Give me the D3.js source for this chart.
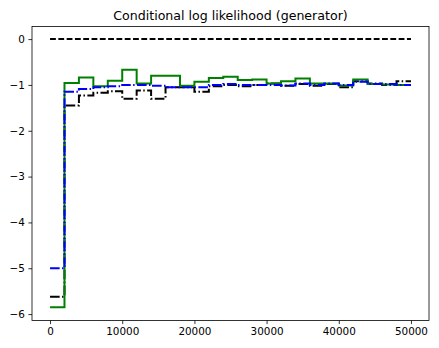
<!DOCTYPE html>
<html>
<head>
<meta charset="utf-8">
<script src="https://cdn.jsdelivr.net/npm/d3@7"></script>
<style>
  html, body { margin: 0; padding: 0; background: #fff; }
  svg { display: block; }
  text { font-family: "DejaVu Sans", sans-serif; }
</style>
</head>
<body>
<script>
// Step edges (x) every 2000 from 0 to 50000
const steps = d3.range(0, 50001, 2000);
// Segment values (25 segments: [0,2000), [2000,4000), ... [48000,50000])
const greenVals = [-5.85, -0.96, -0.84, -1.03, -0.91, -0.67, -0.97, -0.80, -0.80, -1.02,
                   -0.93, -0.85, -0.82, -0.89, -0.88, -0.97, -0.92, -0.86, -0.97, -0.97,
                   -1.01, -0.88, -0.98, -0.99, -1.00];
const blueVals  = [-5.00, -1.15, -1.09, -1.05, -1.03, -1.00, -1.00, -1.02, -1.05, -1.05,
                   -1.05, -1.00, -0.98, -1.00, -1.00, -1.00, -1.01, -0.97, -1.00, -0.97,
                   -1.00, -0.93, -0.98, -0.98, -1.00];
const blackVals = [-5.62, -1.45, -1.23, -1.17, -1.14, -1.30, -1.12, -1.30, -1.05, -1.05,
                   -1.15, -1.03, -1.00, -1.03, -1.00, -0.97, -1.02, -0.98, -1.02, -0.98,
                   -1.05, -0.92, -0.97, -1.00, -0.92];
const zeroVals  = steps.slice(0, -1).map(() => 0);
const xTicks = [0, 10000, 20000, 30000, 40000, 50000];
const yTicks = [0, -1, -2, -3, -4, -5, -6];
const title = "Conditional log likelihood (generator)";

const W = 439, H = 348;
const L = 32, R = 429, T = 26.5, B = 320.5;

const svg = d3.select("body").append("svg").attr("width", W).attr("height", H);

const x = d3.scaleLinear().domain([-2500, 52500]).range([L, R]);
const y = d3.scaleLinear().domain([-6.14, 0.275]).range([B, T]);

function pts(vals) {
  const p = vals.map((v, i) => [steps[i], v]);
  p.push([steps[vals.length], vals[vals.length - 1]]);
  return p;
}
const line = d3.line().x(d => x(d[0])).y(d => y(d[1])).curve(d3.curveStepAfter);

const g = svg.append("g");
const series = [
  { vals: zeroVals, color: "#000000", dash: "5.8,2.5" },
  { vals: blackVals, color: "#000000", dash: "9.6,2.4,1.5,2.4" },
  { vals: greenVals, color: "#008000", dash: null },
  { vals: blueVals, color: "#0000ff", dash: "9.6,2.4,1.5,2.4" }
];
series.forEach(s => {
  g.append("path")
    .attr("d", line(pts(s.vals)))
    .attr("fill", "none")
    .attr("stroke", s.color)
    .attr("stroke-width", 2)
    .attr("stroke-dasharray", s.dash)
    .attr("stroke-linejoin", "miter");
});

// Axes
const xAxis = d3.axisBottom(x).tickValues(xTicks).tickSize(3.6).tickPadding(3.6).tickFormat(d3.format("d"));
const yAxis = d3.axisLeft(y).tickValues(yTicks).tickSize(3.6).tickPadding(3.6)
  .tickFormat(d => d < 0 ? "\u2212" + Math.abs(d) : String(d));

const gx = svg.append("g").attr("transform", `translate(0,${B})`).call(xAxis);
const gy = svg.append("g").attr("transform", `translate(${L},0)`).call(yAxis);
[gx, gy].forEach(a => {
  a.select(".domain").remove();
  a.selectAll(".tick line").attr("stroke", "#000").attr("stroke-width", 0.8);
  a.selectAll(".tick text").attr("fill", "#000").style("font-size", "10.4px")
    .style("font-family", "'DejaVu Sans', sans-serif");
});

// Frame
svg.append("rect").attr("x", L).attr("y", T).attr("width", R - L).attr("height", B - T)
  .attr("fill", "none").attr("stroke", "#000").attr("stroke-width", 0.8);

svg.append("text").attr("x", (L + R) / 2).attr("y", T - 7)
  .attr("text-anchor", "middle").style("font-size", "12.6px").attr("fill", "#000")
  .text(title);
</script>
</body>
</html>
